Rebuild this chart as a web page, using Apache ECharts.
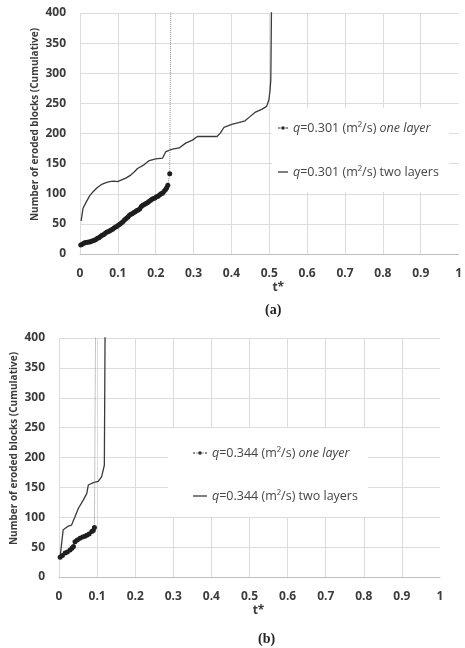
<!DOCTYPE html>
<html>
<head>
<meta charset="utf-8">
<script src="https://cdn.jsdelivr.net/npm/echarts@6/dist/echarts.min.js"></script>
<style>
html,body{margin:0;padding:0;background:#fff;}
#chart{width:465px;height:648px;}
</style>
</head>
<body>
<div id="chart"></div>
<script>
// ---- data ----
var xTicks = [0, 0.1, 0.2, 0.3, 0.4, 0.5, 0.6, 0.7, 0.8, 0.9, 1];
var yTicks = [0, 50, 100, 150, 200, 250, 300, 350, 400];

var nameOneA = 'q=0.301 (m²/s) one layer';
var nameTwoA = 'q=0.301 (m²/s) two layers';
var nameOneB = 'q=0.344 (m²/s) one layer';
var nameTwoB = 'q=0.344 (m²/s) two layers';

var oneA_t = [0.002,0.006,0.01,0.014,0.018,0.022,0.026,0.03,0.034,0.038,0.042,0.046,0.05,0.054,0.058,0.062,0.066,0.07,0.074,0.078,0.082,0.086,0.09,0.094,0.098,0.102,0.106,0.11,0.114,0.118,0.122,0.126,0.13,0.134,0.138,0.142,0.146,0.15,0.154,0.158,0.162,0.166,0.17,0.174,0.178,0.182,0.186,0.19,0.194,0.198,0.202,0.206,0.21,0.214,0.218,0.222,0.226,0.229,0.232,0.237,0.240];
var oneA_y = [15,16,18,19,19,20,20,21,22,23,24,26,27,29,31,32,34,36,37,38,40,41,43,45,46,48,50,52,54,57,59,61,64,66,67,69,70,72,73,75,79,81,82,84,85,87,89,91,92,93,95,96,98,100,101,104,107,110,114,133,420];

var twoA_t = [0.003,0.008,0.017,0.025,0.034,0.045,0.056,0.067,0.078,0.089,0.099,0.11,0.121,0.134,0.143,0.152,0.169,0.183,0.2,0.218,0.227,0.244,0.262,0.279,0.297,0.31,0.335,0.362,0.371,0.38,0.401,0.419,0.436,0.449,0.462,0.48,0.493,0.499,0.502,0.504,0.506];
var twoA_y = [55,76,87,96,103,110,115,118,120,121,120,123,126,131,136,142,148,155,158,159,170,174,176,184,189,195,195,195,201,210,215,218,221,228,235,240,245,256,272,289,420];

var oneB_t = [0.003,0.009,0.016,0.022,0.029,0.034,0.038,0.042,0.048,0.055,0.062,0.068,0.073,0.079,0.086,0.09,0.093,0.096];
var oneB_y = [33,36,40,42,45,48,51,59,62,65,67,68,70,72,76,78,83,420];

var twoB_t = [0.003,0.011,0.024,0.033,0.042,0.051,0.064,0.073,0.077,0.09,0.103,0.112,0.119,0.121];
var twoB_y = [34,79,85,87,101,115,129,140,154,158,160,168,187,420];

function pairs(t, y){ return t.map(function(v,i){ return [v, y[i]]; }); }

var labelColor = '#3b3b3b';
var tickFont = {color: labelColor, fontFamily: 'Open Sans', fontWeight: 'bold', fontSize: 12};

function xAxisDef(gi){
  return {
    type: 'value', gridIndex: gi, min: xTicks[0], max: xTicks[xTicks.length-1], interval: 0.1,
    name: 't*', nameLocation: 'middle', nameGap: 28, nameMoveOverlap: false,
    nameTextStyle: {color: labelColor, fontFamily: 'Open Sans', fontWeight: 'bold', fontSize: 12, padding: [0,0,0,18]},
    axisLine: {show: true, lineStyle: {color: '#bfbfbf', width: 1}},
    axisTick: {show: false},
    axisLabel: Object.assign({margin: 14, formatter: function(v){ return (Math.round(v*10)/10).toString(); }}, tickFont),
    splitLine: {show: true, showMaxLine: false, lineStyle: {color: '#dcdcdc', width: 1}}
  };
}
function yAxisDef(gi){
  return {
    type: 'value', gridIndex: gi, min: yTicks[0], max: yTicks[yTicks.length-1], interval: 50,
    name: 'Number of eroded blocks (Cumulative)', nameLocation: 'middle', nameGap: 40, nameMoveOverlap: false,
    nameTextStyle: {color: labelColor, fontFamily: 'Open Sans', fontWeight: 'bold', fontSize: 10, padding: [0,0,0,18]},
    axisLine: {show: false}, axisTick: {show: false},
    axisLabel: Object.assign({margin: 14}, tickFont),
    splitLine: {show: true, lineStyle: {color: '#dcdcdc', width: 1}}
  };
}
function oneSeries(name, gi, data){
  return {
    name: name, type: 'line', xAxisIndex: gi, yAxisIndex: gi, data: data,
    symbol: 'circle', symbolSize: 5, showSymbol: true,
    itemStyle: {color: '#1e1e1e'},
    lineStyle: {color: '#8a8a8a', width: 1, type: 'dotted'},
    clip: true, animation: false, z: 3
  };
}
function twoSeries(name, gi, data){
  return {
    name: name, type: 'line', xAxisIndex: gi, yAxisIndex: gi, data: data,
    symbol: 'none', showSymbol: false,
    itemStyle: {color: '#3a3a3a'},
    lineStyle: {color: '#3a3a3a', width: 1.3},
    clip: true, animation: false, z: 2
  };
}
var legendText = {
  color: '#454545', fontFamily: 'Open Sans', fontSize: 12.5,
  rich: {i: {fontStyle: 'italic', color: '#454545', fontFamily: 'Open Sans', fontSize: 12.5}}
};
function legendFmt(name){
  var m = name.match(/^q(=[\d.]+ \(m²\/s\) )(one layer|two layers)$/);
  if(!m) return name;
  return '{i|q}' + m[1] + (m[2]==='one layer' ? '{i|one layer}' : m[2]);
}
var iconSolidShort = 'path://M0,0 M0,14 M10,0 M0,6.4 L10,6.4 L10,7.6 L0,7.6 Z';
var iconDotShort = 'path://M0,0 M0,14 M10,0 M0,6.5 L2.5,6.5 L2.5,7.5 L0,7.5 Z M7.5,6.5 L10,6.5 L10,7.5 L7.5,7.5 Z M3.2,7 A1.8,1.8 0 1,0 6.8,7 A1.8,1.8 0 1,0 3.2,7 Z';
var iconSolidLong = 'path://M0,0 M0,14 M14,0 M0,6.4 L14,6.4 L14,7.6 L0,7.6 Z';
var iconDotLong = 'path://M0,0 M0,14 M14,0 M0,6.5 L2,6.5 L2,7.5 L0,7.5 Z M3.5,6.5 L4.5,6.5 L4.5,7.5 L3.5,7.5 Z M9.5,6.5 L10.5,6.5 L10.5,7.5 L9.5,7.5 Z M12,6.5 L14,6.5 L14,7.5 L12,7.5 Z M5.2,7 A1.8,1.8 0 1,0 8.8,7 A1.8,1.8 0 1,0 5.2,7 Z';
var legendItemStyle = {color: '#2a2a2a', borderWidth: 0, borderColor: 'transparent'};

var option = {
  backgroundColor: '#ffffff',
  animation: false,
  title: [
    {text: '(a)', left: 260, top: 298, textStyle: {fontFamily: 'Liberation Serif', fontWeight: 'bold', fontSize: 14, color: '#222'}},
    {text: '(b)', left: 253, top: 627, textStyle: {fontFamily: 'Liberation Serif', fontWeight: 'bold', fontSize: 14, color: '#222'}}
  ],
  grid: [
    {left: 80, top: 13, width: 382, height: 241, containLabel: false},
    {left: 59, top: 338, width: 381, height: 239, containLabel: false}
  ],
  xAxis: [xAxisDef(0), xAxisDef(1)],
  yAxis: [yAxisDef(0), yAxisDef(1)],
  legend: [
    {data: [{name: nameOneA, icon: iconDotShort, itemStyle: legendItemStyle},
            {name: nameTwoA, icon: iconSolidShort, itemStyle: legendItemStyle}],
     orient: 'vertical', left: 272, top: 108, padding: [13, 10, 13, 6],
     itemWidth: 10, itemHeight: 14, itemGap: 30, backgroundColor: '#ffffff', textStyle: legendText,
     formatter: legendFmt, selectedMode: false},
    {data: [{name: nameOneB, icon: iconDotLong, itemStyle: legendItemStyle},
            {name: nameTwoB, icon: iconSolidLong, itemStyle: legendItemStyle}],
     orient: 'vertical', left: 168, top: 428, padding: [18, 10, 14, 25],
     itemWidth: 14, itemHeight: 14, itemGap: 29, backgroundColor: '#ffffff', textStyle: legendText,
     formatter: legendFmt, selectedMode: false}
  ],
  series: [
    twoSeries(nameTwoA, 0, pairs(twoA_t, twoA_y)),
    oneSeries(nameOneA, 0, pairs(oneA_t, oneA_y)),
    twoSeries(nameTwoB, 1, pairs(twoB_t, twoB_y)),
    oneSeries(nameOneB, 1, pairs(oneB_t, oneB_y))
  ]
};
var chart = echarts.init(document.getElementById('chart'), null, {renderer: 'canvas'});
chart.setOption(option);
</script>
</body>
</html>
